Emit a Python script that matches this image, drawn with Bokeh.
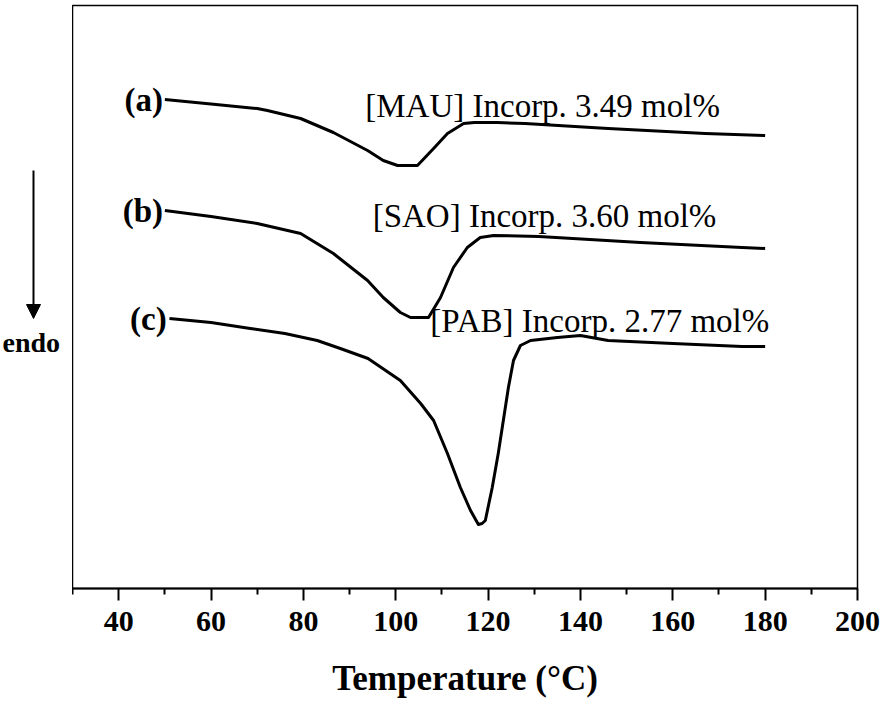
from bokeh.plotting import figure
from bokeh.layouts import row
from bokeh.models import Range1d, Label, Arrow, NormalHead, FixedTicker
from bokeh.embed import file_html
from bokeh.resources import INLINE

# ---- data (heat flow, arbitrary units; endo down) ----
T_a = [50, 60, 70, 72.2, 79.4, 86.5, 93.9, 97.3, 100.4, 104.7, 108.2, 111.2, 114.7, 117, 122, 128, 146, 167, 180]
hf_a = [5.01, 4.965, 4.92, 4.90, 4.82, 4.68, 4.50, 4.40, 4.35, 4.35, 4.52, 4.67, 4.77, 4.78, 4.78, 4.77, 4.72, 4.67, 4.65]

T_b = [50, 60, 70, 79.4, 86.5, 93.9, 97.3, 101, 103.2, 107.1, 109.7, 112.5, 115.5, 118.3, 121.2, 131, 153, 175, 180]
hf_b = [3.90, 3.84, 3.77, 3.67, 3.47, 3.20, 3.03, 2.88, 2.83, 2.83, 3.03, 3.33, 3.53, 3.63, 3.65, 3.64, 3.58, 3.53, 3.52]

T_c = [51, 60, 68.5, 76, 83, 88, 94, 101, 105.4, 108.2, 111.2, 114, 116.2, 117.9, 118.7, 119.4, 120.9,
       122.2, 123.3, 124.4, 125.5, 127, 129.2, 135, 140, 146, 160, 175, 180]
hf_c = [2.82, 2.78, 2.72, 2.67, 2.60, 2.52, 2.42, 2.20, 1.97, 1.80, 1.47, 1.13, 0.90, 0.76, 0.77, 0.80, 1.13,
        1.47, 1.80, 2.13, 2.40, 2.55, 2.60, 2.63, 2.65, 2.60, 2.57, 2.54, 2.54]

series_tags = ["(a)", "(b)", "(c)"]
series_notes = ["[MAU]  Incorp. 3.49 mol%", "[SAO]  Incorp. 3.60 mol%", "[PAB]  Incorp. 2.77 mol%"]

x_ticks = [40, 60, 80, 100, 120, 140, 160, 180, 200]
x_minor = [30, 50, 70, 90, 110, 130, 150, 170, 190]

SERIF = "Liberation Serif"
H = 702
FRAME_TOP, FRAME_BOTTOM = 5, 588

# ---- left strip with the "endo" arrow (its frame is aligned with the main frame) ----
side = figure(width=72, height=H, x_range=Range1d(0, 72), y_range=Range1d(FRAME_BOTTOM, FRAME_TOP),
              output_backend="svg", toolbar_location=None,
              min_border_left=0, min_border_right=0, min_border_top=FRAME_TOP,
              min_border_bottom=H - FRAME_BOTTOM)
side.axis.visible = False
side.grid.visible = False
side.outline_line_color = None
side.add_layout(Arrow(x_start=33, y_start=170, x_end=33, y_end=318,
                      line_color="black", line_width=2,
                      end=NormalHead(size=14, fill_color="black", line_color="black")))
side.add_layout(Label(x=2, y=342, text="endo", text_align="left", text_baseline="middle",
                      text_font=SERIF, text_font_style="bold", text_font_size="28px",
                      text_color="black"))

# ---- main plot ----
p = figure(width=811, height=H, x_range=Range1d(30, 200), y_range=Range1d(0.12, 5.95),
           output_backend="svg", toolbar_location=None,
           min_border_left=0, min_border_right=26, min_border_top=FRAME_TOP,
           min_border_bottom=H - FRAME_BOTTOM)
p.grid.visible = False
p.yaxis.visible = False
p.outline_line_color = "black"
p.outline_line_width = 1.5
p.outline_line_alpha = 1.0

ax = p.xaxis[0]
ax.ticker = FixedTicker(ticks=x_ticks, minor_ticks=x_minor)
ax.axis_line_width = 2
ax.axis_line_color = "black"
ax.major_tick_out = 12
ax.major_tick_in = 0
ax.minor_tick_out = 6
ax.minor_tick_in = 0
ax.major_tick_line_width = 2
ax.minor_tick_line_width = 2
ax.major_tick_line_color = "black"
ax.minor_tick_line_color = "black"
ax.major_label_text_font = SERIF
ax.major_label_text_font_style = "bold"
ax.major_label_text_font_size = "30px"
ax.major_label_text_color = "black"
ax.major_label_standoff = 11
ax.axis_label = "Temperature (°C)"
ax.axis_label_text_font = SERIF
ax.axis_label_text_font_style = "bold"
ax.axis_label_text_font_size = "35px"
ax.axis_label_text_color = "black"
ax.axis_label_standoff = 25

for T, hf in [(T_a, hf_a), (T_b, hf_b), (T_c, hf_c)]:
    p.line(T, hf, line_color="black", line_width=3, line_join="round")

tag_pos = [(49.6, 5.01), (49.6, 3.90), (50.4, 2.82)]
for txt, (x, y) in zip(series_tags, tag_pos):
    p.add_layout(Label(x=x, y=y, text=txt, text_align="right", text_baseline="middle",
                       text_font=SERIF, text_font_style="bold", text_font_size="33px",
                       text_color="black"))

note_pos = [(93.4, 4.95), (95.0, 3.85), (107.5, 2.80)]
for txt, (x, y) in zip(series_notes, note_pos):
    p.add_layout(Label(x=x, y=y, text=txt, text_align="left", text_baseline="middle",
                       text_font=SERIF, text_font_size="33px", text_color="black"))

layout = row(side, p, spacing=0)
open("out.html", "w").write(file_html(layout, INLINE))
